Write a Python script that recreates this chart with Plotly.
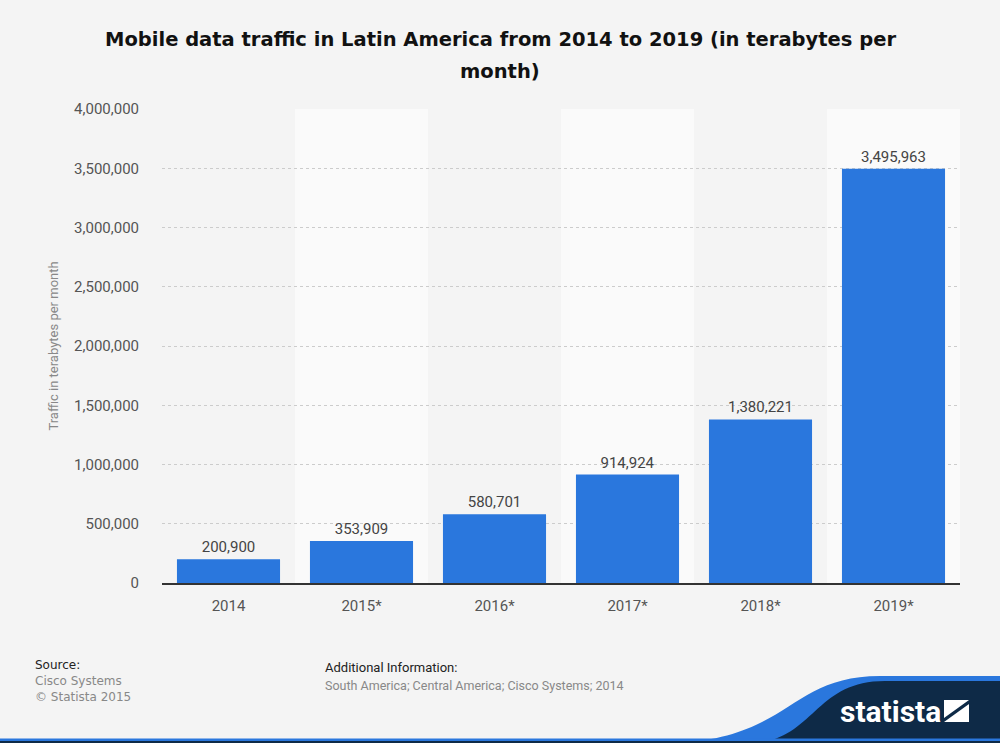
import plotly.graph_objects as go

categories = ["2014", "2015*", "2016*", "2017*", "2018*", "2019*"]
values = [200900, 353909, 580701, 914924, 1380221, 3495963]
value_labels = ["200,900", "353,909", "580,701", "914,924", "1,380,221", "3,495,963"]
y_ticks = [0, 500000, 1000000, 1500000, 2000000, 2500000, 3000000, 3500000, 4000000]
y_tick_labels = ["0", "500,000", "1,000,000", "1,500,000", "2,000,000", "2,500,000",
                 "3,000,000", "3,500,000", "4,000,000"]
title_lines = ["Mobile data traffic in Latin America from 2014 to 2019 (in terabytes per", "month)"]

FONT = "Roboto, sans-serif"
TFONT = "DejaVu Sans, sans-serif"

L, R, T, B = 162, 40, 109, 160
W, H = 1000, 743
pw, ph = W - L - R, H - T - B


def px(x):
    return (x - L) / pw


def py(y):
    return (H - B - y) / ph


fig = go.Figure()
fig.add_trace(go.Bar(
    x=categories, y=values, text=value_labels, textposition="outside",
    marker=dict(color="#2a77dd", line=dict(width=0)), width=0.775,
    textfont=dict(family=FONT, size=15, color="#444444"),
    cliponaxis=False, hoverinfo="skip",
))

shapes = []
for i in range(len(categories)):
    if i % 2 == 1:
        shapes.append(dict(type="rect", xref="x", yref="paper", x0=i - 0.5, x1=i + 0.5,
                           y0=0, y1=1, fillcolor="#fafafa", line=dict(width=0), layer="below"))

swoosh_blue = (f"M {px(675)},{py(743)} C {px(790)},{py(738)} {px(790)},{py(676)} {px(880)},{py(676)} "
               f"L {px(1000)},{py(676)} L {px(1000)},{py(743)} Z")
swoosh_dark = (f"M {px(755)},{py(743)} C {px(815)},{py(738)} {px(815)},{py(681)} {px(885)},{py(681)} "
               f"L {px(1000)},{py(681)} L {px(1000)},{py(743)} Z")
shapes += [
    dict(type="path", xref="paper", yref="paper", path=swoosh_blue, fillcolor="#2a77dd",
         line=dict(width=0), layer="above"),
    dict(type="path", xref="paper", yref="paper", path=swoosh_dark, fillcolor="#0e2a47",
         line=dict(width=0), layer="above"),
    dict(type="rect", xref="paper", yref="paper", x0=px(0), x1=px(1000), y0=py(743), y1=py(738.5),
         fillcolor="#2a77dd", line=dict(width=0), layer="above"),
    dict(type="rect", xref="paper", yref="paper", x0=px(0), x1=px(1000), y0=py(743), y1=py(741),
         fillcolor="#0e2a47", line=dict(width=0), layer="above"),
    dict(type="path", xref="paper", yref="paper",
         path=(f"M {px(944)},{py(722)} L {px(944)},{py(700)} L {px(969)},{py(700)} "
               f"L {px(944)},{py(718)} Z"),
         fillcolor="#ffffff", line=dict(width=0), layer="above"),
    dict(type="path", xref="paper", yref="paper",
         path=(f"M {px(969)},{py(700)} L {px(969)},{py(722)} L {px(944)},{py(722)} "
               f"L {px(969)},{py(704)} Z"),
         fillcolor="#ffffff", line=dict(width=0), layer="above"),
]

fig.update_layout(
    width=W, height=H,
    margin=dict(l=L, r=R, t=T, b=B),
    paper_bgcolor="#f4f4f4", plot_bgcolor="#f4f4f4",
    showlegend=False,
    shapes=shapes,
    xaxis=dict(showgrid=False, showline=True, linecolor="#333333", linewidth=1.5,
               ticks="", tickfont=dict(family=FONT, size=15, color="#555555"),
               ticklabelstandoff=8, fixedrange=True),
    yaxis=dict(range=[0, 4000000], tickvals=y_ticks, ticktext=y_tick_labels,
               showgrid=True, gridcolor="#cccccc", griddash="dot", gridwidth=1,
               zeroline=False, showline=False, ticks="",
               tickfont=dict(family=FONT, size=15, color="#555555"),
               ticklabelstandoff=22,
               title=dict(text="Traffic in terabytes per month", standoff=12,
                          font=dict(family=FONT, size=13, color="#888888")),
               fixedrange=True),
)

annotations = [
    dict(text=f"<b>{title_lines[0]}</b>", x=px(500), y=py(40), xref="paper", yref="paper",
         xanchor="center", yanchor="middle", showarrow=False,
         font=dict(family=TFONT, size=19.5, color="#111111")),
    dict(text=f"<b>{title_lines[1]}</b>", x=px(500), y=py(71), xref="paper", yref="paper",
         xanchor="center", yanchor="middle", showarrow=False,
         font=dict(family=TFONT, size=19.5, color="#111111")),
    dict(text="Source:", x=px(33), y=py(665), xref="paper", yref="paper", xanchor="left",
         yanchor="middle", showarrow=False, font=dict(family=TFONT, size=12, color="#222222")),
    dict(text="Cisco Systems", x=px(33), y=py(681), xref="paper", yref="paper", xanchor="left",
         yanchor="middle", showarrow=False, font=dict(family=TFONT, size=12, color="#888888")),
    dict(text="© Statista 2015", x=px(33), y=py(697), xref="paper", yref="paper", xanchor="left",
         yanchor="middle", showarrow=False, font=dict(family=TFONT, size=12, color="#888888")),
    dict(text="Additional Information:", x=px(323), y=py(667), xref="paper", yref="paper", xanchor="left",
         yanchor="middle", showarrow=False, font=dict(family=FONT, size=13, color="#222222")),
    dict(text="South America; Central America; Cisco Systems; 2014", x=px(323), y=py(685), xref="paper",
         yref="paper", xanchor="left", yanchor="middle", showarrow=False,
         font=dict(family=FONT, size=12.5, color="#888888")),
    dict(text="<b>statista</b>", x=px(890), y=py(711), xref="paper", yref="paper", xanchor="center",
         yanchor="middle", showarrow=False, font=dict(family=FONT, size=30, color="#ffffff")),
]
fig.update_layout(annotations=annotations)

fig.write_html("out.html")
